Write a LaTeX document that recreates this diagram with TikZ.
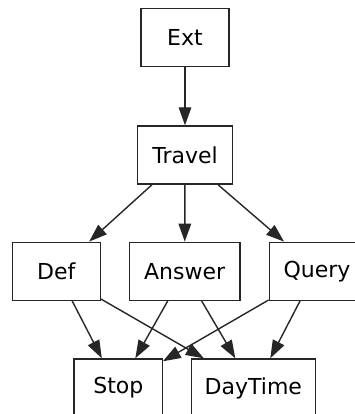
\documentclass[tikz,border=0pt]{standalone}
\usepackage{fontspec}
\setmainfont{DejaVu Sans}
\usetikzlibrary{arrows.meta}
\begin{document}
\begin{tikzpicture}[x=1pt,y=-1pt,
  box/.style={draw=black!85, line width=1.4pt, minimum height=58pt, inner sep=0pt,
              font=\fontsize{22}{26}\selectfont},
  edge/.style={draw=black!85, line width=1.4pt, -{Triangle[length=18pt,width=12.6pt]}}]
\useasboundingbox (0,0) rectangle (355,414);
\begin{scope}
\clip (0,0) rectangle (355,414);
% nodes
\node[box, minimum width=88pt]    (ext)     at (185,37.3)  {Ext};
\node[box, minimum width=94.6pt]  (travel)  at (185,155)   {Travel};
\node[box, minimum width=88pt]    (def)     at (56.2,271.3)  {Def};
\node[box, minimum width=110.7pt] (answer)  at (184.7,271.3) {Answer};
\node[box, minimum width=95.4pt]  (query)   at (317,271.3)   {Query};
\node[box, minimum width=88.7pt]  (stop)    at (118.3,388)   {Stop};
\node[box, minimum width=124pt]   (daytime) at (253.3,388)   {DayTime};
% edges
\draw[edge] (ext) -- (travel);
\draw[edge] ([xshift=-33pt]travel.south) -- ([xshift=33pt]def.north);
\draw[edge] (travel) -- (answer);
\draw[edge] ([xshift=33pt]travel.south) -- ([xshift=-33pt]query.north);
\draw[edge] ([xshift=16pt]def.south) -- ([xshift=-16.5pt]stop.north);
\draw[edge] ([yshift=2pt]def.south east) -- ([xshift=-49.5pt]daytime.north);
\draw[edge] ([xshift=-17pt]answer.south) -- ([xshift=17pt]stop.north);
\draw[edge] ([xshift=17pt]answer.south) -- ([xshift=-18pt]daytime.north);
\draw[edge] ([yshift=1pt]query.south west) -- ([xshift=-0.5pt,yshift=-3pt]stop.north east);
\draw[edge] ([xshift=-17pt]query.south) -- ([xshift=17pt]daytime.north);
\end{scope}
\end{tikzpicture}
\end{document}
